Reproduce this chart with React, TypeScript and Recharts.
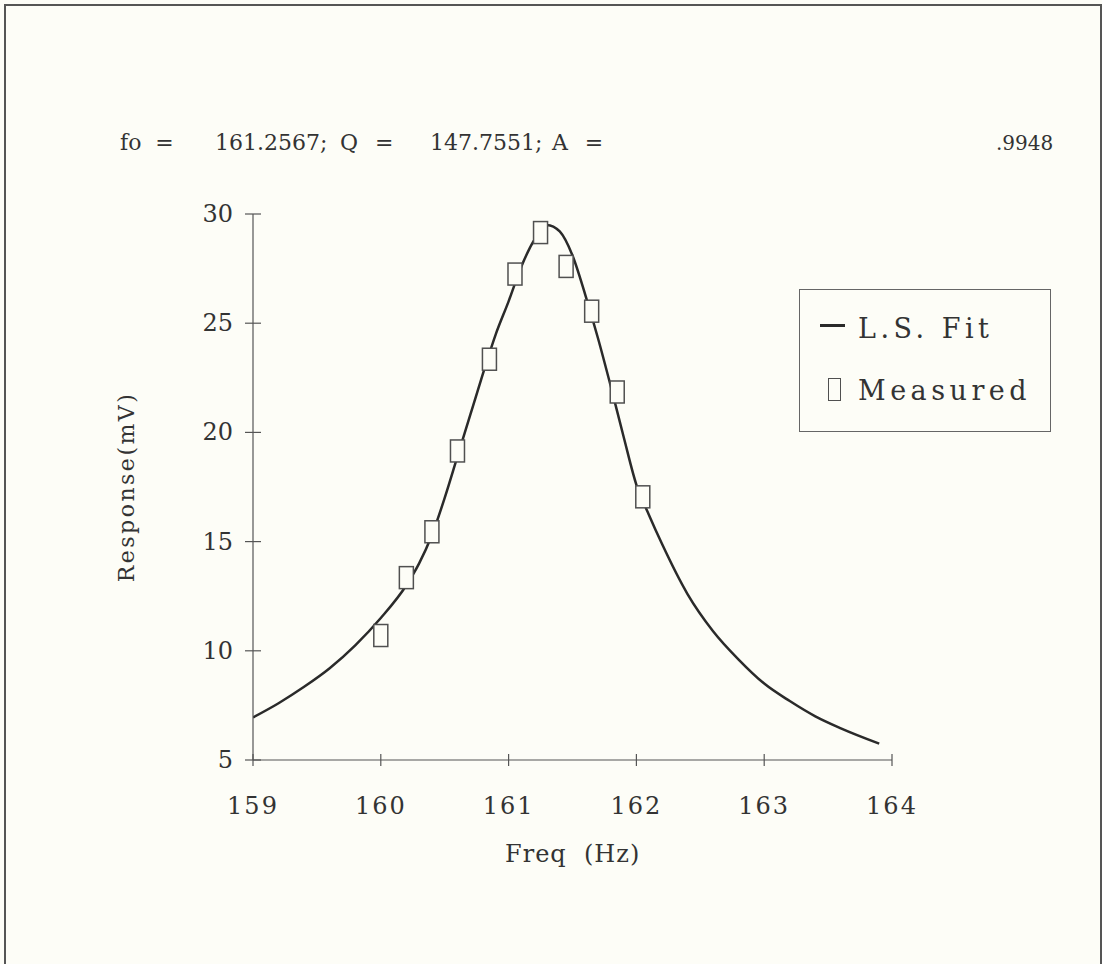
import { ComposedChart, Line, Scatter, XAxis, YAxis } from 'recharts';

// L.S. fit curve
const fitFreq = [159.0, 159.2, 159.4, 159.6, 159.8, 160.0, 160.2, 160.3, 160.4, 160.5, 160.6, 160.7, 160.8, 160.9, 161.0, 161.1, 161.2, 161.3, 161.4, 161.5, 161.6, 161.7, 161.8, 161.9, 162.0, 162.1, 162.2, 162.4, 162.6, 162.8, 163.0, 163.2, 163.4, 163.6, 163.9];
const fitResp = [6.95, 7.6, 8.35, 9.2, 10.25, 11.5, 13.0, 14.0, 15.3, 17.0, 18.9, 20.8, 22.7, 24.5, 26.0, 27.6, 28.8, 29.5, 29.2, 28.1, 26.3, 24.3, 22.1, 19.8, 17.6, 16.2, 14.9, 12.6, 10.9, 9.6, 8.5, 7.7, 7.0, 6.45, 5.75];

// measured points
const measFreq = [160.0, 160.2, 160.4, 160.6, 160.85, 161.05, 161.25, 161.45, 161.65, 161.85, 162.05];
const measResp = [10.7, 13.35, 15.45, 19.15, 23.35, 27.25, 29.15, 27.6, 25.55, 21.85, 17.05];

const xTicks = [159, 160, 161, 162, 163, 164];
const yTicks = [5, 10, 15, 20, 25, 30];

const fitData = fitFreq.map((f, i) => ({ freq: f, fit: fitResp[i] }));
const measData = measFreq.map((f, i) => ({ freq: f, meas: measResp[i] }));

const INK = '#2a2a2a';
const BG = '#fdfdf7';
const FONT = '"DejaVu Serif", serif';

const Box = (props: any) => {
  const { cx, cy } = props;
  return <rect x={cx - 7} y={cy - 11} width={14} height={22} fill={BG} stroke="#505050" strokeWidth={1.5} />;
};

const YTick = (props: any) => {
  const { x, y, payload } = props;
  return (
    <g>
      <line x1={x - 8} x2={x + 8} y1={y} y2={y} stroke="#555" strokeWidth={1.2} />
      <text x={x - 20} y={y} textAnchor="end" dominantBaseline="central" fontFamily={FONT} fontSize={24} fill="#333">
        {payload.value}
      </text>
    </g>
  );
};

const XTick = (props: any) => {
  const { x, y, payload } = props;
  return (
    <g>
      <line x1={x} x2={x} y1={y - 6} y2={y + 6} stroke="#555" strokeWidth={1.2} />
      <text x={x} y={y + 54} textAnchor="middle" fontFamily={FONT} fontSize={24} fill="#333" letterSpacing={2}>
        {payload.value}
      </text>
    </g>
  );
};

const txt = (left: number, top: number, s: string, size = 22, ls = 0) => (
  <div style={{ position: 'absolute', left, top, fontFamily: FONT, fontSize: size, color: '#333', whiteSpace: 'pre', lineHeight: 1, letterSpacing: ls }}>{s}</div>
);

export default function App() {
  return (
    <div style={{ position: 'absolute', left: 0, top: 0, width: 1102, height: 964, background: BG, overflow: 'hidden' }}>
      <div style={{ position: 'absolute', left: 4, top: 4, width: 1094, height: 1000, border: '2.5px solid #555' }} />
      {txt(120, 132, 'fo  =')}
      {txt(215, 132, '161.2567;')}
      {txt(340, 132, 'Q  =', 22, 1)}
      {txt(430, 132, '147.7551;')}
      {txt(552, 132, 'A  =', 22, 1)}
      {txt(996, 133, '.9948', 20)}
      <ComposedChart
        width={1102}
        height={964}
        margin={{ top: 214, right: 210, left: 193, bottom: 144 }}
        style={{ position: 'absolute', left: 0, top: 0 }}
      >
        <XAxis
          dataKey="freq"
          type="number"
          domain={[159, 164]}
          ticks={xTicks}
          allowDataOverflow
          height={60}
          tickSize={0}
          tickMargin={0}
          tick={<XTick />}
          stroke="#555"
          strokeWidth={1.2}
        />
        <YAxis
          type="number"
          domain={[5, 30]}
          ticks={yTicks}
          allowDataOverflow
          width={60}
          tickSize={0}
          tickMargin={0}
          tick={<YTick />}
          stroke="#555"
          strokeWidth={1.2}
        />
        <Line data={fitData} dataKey="fit" type="monotone" stroke={INK} strokeWidth={2.5} dot={false} isAnimationActive={false} />
        <Scatter data={measData} dataKey="meas" shape={<Box />} isAnimationActive={false} />
      </ComposedChart>
      <div style={{ position: 'absolute', left: 126, top: 487, transform: 'translate(-50%, -50%) rotate(-90deg)', fontFamily: FONT, fontSize: 22, letterSpacing: 2.5, color: '#333', whiteSpace: 'pre' }}>
        Response(mV)
      </div>
      {txt(505, 842, 'Freq  (Hz)', 24, 1)}
      <div style={{ position: 'absolute', left: 799, top: 289, width: 250, height: 141, border: '1.5px solid #666', fontFamily: FONT, fontSize: 27, letterSpacing: 4.5, color: '#333' }}>
        <div style={{ position: 'absolute', left: 20, top: 34, width: 25, height: 2.5, background: INK }} />
        <div style={{ position: 'absolute', left: 58, top: 38, transform: 'translateY(-50%)', whiteSpace: 'pre' }}>L.S. Fit</div>
        <div style={{ position: 'absolute', left: 28, top: 88, width: 13, height: 23, border: '1.5px solid #505050', boxSizing: 'border-box' }} />
        <div style={{ position: 'absolute', left: 58, top: 100, transform: 'translateY(-50%)', whiteSpace: 'pre' }}>Measured</div>
      </div>
    </div>
  );
}
